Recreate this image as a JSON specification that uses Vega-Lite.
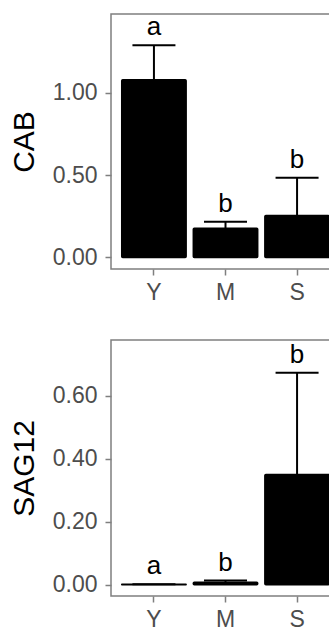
{
  "$schema": "https://vega.github.io/schema/vega-lite/v6.json",
  "padding": {"left": 8, "top": 13, "right": 0, "bottom": 0},
  "spacing": 34,
  "config": {
    "font": "Liberation Sans",
    "view": {"stroke": "#7f7f7f", "strokeWidth": 1.5},
    "axis": {
      "grid": false, "domain": false,
      "tickColor": "#7f7f7f", "tickWidth": 1.5, "tickSize": 6,
      "labelColor": "#4d4d4d", "labelFontSize": 23, "labelFont": "Liberation Sans",
      "titleColor": "black", "titleFontSize": 30, "titleFontWeight": "normal", "titleFont": "Liberation Sans"
    }
  },
  "datasets": {
    "cab": [
      {"stage": "Y", "mean": 1.08, "upper": 1.29, "letter": "a"},
      {"stage": "M", "mean": 0.178, "upper": 0.217, "letter": "b"},
      {"stage": "S", "mean": 0.255, "upper": 0.484, "letter": "b"}
    ],
    "sag": [
      {"stage": "Y", "mean": 0.001, "upper": 0.0015, "letter": "a"},
      {"stage": "M", "mean": 0.008, "upper": 0.013, "letter": "b"},
      {"stage": "S", "mean": 0.35, "upper": 0.673, "letter": "b"}
    ]
  },
  "vconcat": [
    {
      "width": 229, "height": 255,
      "data": {"name": "cab"},
      "encoding": {
        "x": {"field": "stage", "type": "nominal", "sort": ["Y", "M", "S"],
              "scale": {"paddingInner": 0.1, "paddingOuter": 0.15},
              "axis": {"title": null, "labelAngle": 0, "labelPadding": 6}}
      },
      "layer": [
        {"mark": {"type": "rule", "strokeWidth": 2, "color": "black"},
         "encoding": {
           "y": {"field": "mean", "type": "quantitative",
                 "scale": {"domain": [-0.07, 1.48], "nice": false, "zero": false},
                 "axis": {"title": "CAB", "values": [0, 0.5, 1], "format": ".2f", "labelPadding": 8, "titlePadding": 13}},
           "y2": {"field": "upper"}}},
        {"mark": {"type": "tick", "size": 43, "thickness": 2, "color": "black", "opacity": 1},
         "encoding": {"y": {"field": "upper", "type": "quantitative"}}},
        {"mark": {"type": "bar", "color": "black", "stroke": "black", "strokeWidth": 1.5, "cornerRadius": 1},
         "encoding": {"y": {"field": "mean", "type": "quantitative"}, "y2": {"datum": 0}}},
        {"mark": {"type": "text", "dy": -10, "baseline": "alphabetic", "fontSize": 26, "color": "black"},
         "encoding": {"y": {"field": "upper", "type": "quantitative"}, "text": {"field": "letter"}}}
      ]
    },
    {
      "width": 229, "height": 256,
      "data": {"name": "sag"},
      "encoding": {
        "x": {"field": "stage", "type": "nominal", "sort": ["Y", "M", "S"],
              "scale": {"paddingInner": 0.1, "paddingOuter": 0.15},
              "axis": {"title": null, "labelAngle": 0, "labelPadding": 6}}
      },
      "layer": [
        {"mark": {"type": "rule", "strokeWidth": 2, "color": "black"},
         "encoding": {
           "y": {"field": "mean", "type": "quantitative",
                 "scale": {"domain": [-0.036, 0.777], "nice": false, "zero": false},
                 "axis": {"title": "SAG12", "values": [0, 0.2, 0.4, 0.6], "format": ".2f", "labelPadding": 8, "titlePadding": 13}},
           "y2": {"field": "upper"}}},
        {"mark": {"type": "tick", "size": 43, "thickness": 2, "color": "black", "opacity": 1},
         "encoding": {"y": {"field": "upper", "type": "quantitative"}}},
        {"mark": {"type": "bar", "color": "black", "stroke": "black", "strokeWidth": 1.5, "cornerRadius": 1},
         "encoding": {"y": {"field": "mean", "type": "quantitative"}, "y2": {"datum": 0}}},
        {"mark": {"type": "text", "dy": -10, "baseline": "alphabetic", "fontSize": 26, "color": "black"},
         "encoding": {"y": {"field": "upper", "type": "quantitative"}, "text": {"field": "letter"}}}
      ]
    }
  ]
}
